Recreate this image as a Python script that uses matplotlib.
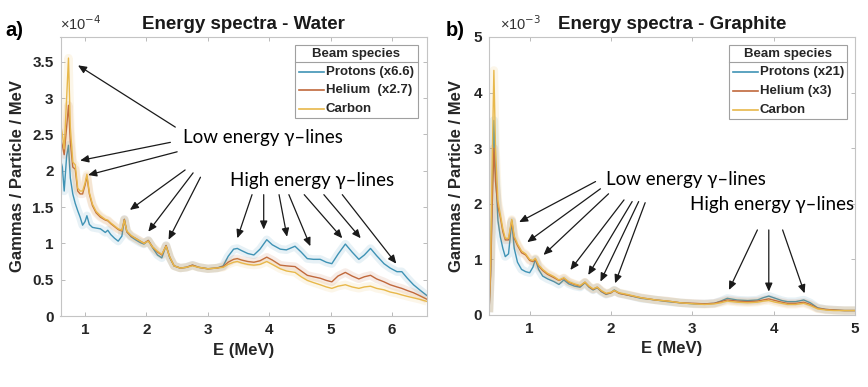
import matplotlib
matplotlib.use("Agg")
import matplotlib.pyplot as plt
from matplotlib.ticker import FuncFormatter
from matplotlib.lines import Line2D
from matplotlib.patches import Rectangle

# ---------------- data: panel a (Water), units 1e-4 ----------------
E_a = [0.60, 0.63, 0.66, 0.70, 0.73, 0.76, 0.80, 0.84, 0.88, 0.92, 0.96, 1.00, 1.03, 1.07,
       1.12, 1.18, 1.25, 1.33, 1.37, 1.42, 1.48, 1.54, 1.60, 1.64, 1.68, 1.75, 1.82, 1.90,
       1.96, 2.03, 2.10, 2.18, 2.25, 2.32, 2.38, 2.45, 2.55, 2.65, 2.75, 2.85, 3.00, 3.15,
       3.25, 3.33, 3.42, 3.48, 3.55, 3.65, 3.75, 3.85, 3.96, 4.05, 4.18, 4.28, 4.42, 4.52,
       4.62, 4.72, 4.83, 4.93, 5.02, 5.12, 5.24, 5.35, 5.46, 5.55, 5.65, 5.75, 5.87, 5.97,
       6.08, 6.16, 6.25, 6.35, 6.45, 6.57]
water_protons = [2.15, 2.05, 1.72, 2.20, 2.35, 1.90, 1.68, 1.55, 1.45, 1.36, 1.25, 1.30, 1.38, 1.26,
                 1.22, 1.21, 1.20, 1.15, 1.18, 1.12, 1.07, 1.03, 1.10, 1.33, 1.16, 1.09, 1.05, 1.01,
                 0.99, 1.04, 0.94, 0.84, 0.80, 0.97, 0.80, 0.69, 0.66, 0.67, 0.70, 0.67, 0.65, 0.66,
                 0.69, 0.82, 0.92, 0.93, 0.90, 0.86, 0.84, 0.92, 1.05, 0.98, 0.92, 0.91, 0.96, 0.88,
                 0.79, 0.78, 0.78, 0.74, 0.72, 0.85, 0.99, 0.88, 0.78, 0.84, 0.93, 0.83, 0.72, 0.66,
                 0.61, 0.61, 0.52, 0.43, 0.36, 0.28]
water_helium = [2.45, 2.35, 2.22, 2.60, 2.90, 2.40, 2.05, 2.02, 1.72, 1.68, 1.68, 1.80, 1.92, 1.68,
                1.52, 1.42, 1.36, 1.32, 1.31, 1.27, 1.23, 1.19, 1.17, 1.33, 1.16, 1.10, 1.07, 1.03,
                1.00, 1.04, 0.95, 0.88, 0.84, 0.97, 0.81, 0.69, 0.66, 0.67, 0.70, 0.67, 0.65, 0.66,
                0.68, 0.74, 0.78, 0.79, 0.77, 0.75, 0.74, 0.76, 0.81, 0.77, 0.70, 0.69, 0.68, 0.62,
                0.56, 0.54, 0.52, 0.49, 0.47, 0.55, 0.60, 0.55, 0.51, 0.54, 0.56, 0.51, 0.47, 0.43,
                0.40, 0.38, 0.35, 0.32, 0.28, 0.23]
water_carbon = [2.65, 2.50, 2.30, 3.00, 3.55, 2.60, 2.12, 2.08, 1.76, 1.72, 1.72, 1.83, 1.95, 1.70,
                1.54, 1.44, 1.38, 1.33, 1.32, 1.28, 1.24, 1.20, 1.18, 1.32, 1.17, 1.11, 1.07, 1.03,
                1.00, 1.03, 0.95, 0.89, 0.85, 0.96, 0.81, 0.69, 0.66, 0.67, 0.69, 0.67, 0.65, 0.66,
                0.67, 0.71, 0.74, 0.75, 0.73, 0.71, 0.70, 0.71, 0.75, 0.71, 0.65, 0.62, 0.60, 0.54,
                0.49, 0.46, 0.43, 0.40, 0.38, 0.41, 0.43, 0.40, 0.38, 0.40, 0.41, 0.38, 0.36, 0.33,
                0.31, 0.29, 0.27, 0.25, 0.23, 0.20]

# ---------------- data: panel b (Graphite), units 1e-3 ----------------
E_b = [0.50, 0.52, 0.54, 0.56, 0.58, 0.61, 0.64, 0.67, 0.70, 0.74, 0.78, 0.81, 0.85, 0.90,
       0.95, 1.00, 1.04, 1.07, 1.11, 1.16, 1.22, 1.30, 1.36, 1.42, 1.48, 1.55, 1.62, 1.68,
       1.73, 1.78, 1.83, 1.88, 1.94, 2.00, 2.04, 2.10, 2.20, 2.37, 2.55, 2.70, 2.85, 3.02,
       3.15, 3.27, 3.35, 3.43, 3.55, 3.68, 3.80, 3.87, 3.94, 4.02, 4.10, 4.17, 4.27, 4.37,
       4.45, 4.54, 4.64, 4.74, 4.87, 5.00]
graphite_protons = [0.05, 0.80, 2.30, 3.50, 2.60, 1.70, 1.40, 1.20, 1.05, 1.10, 1.68, 1.20, 0.95, 0.82,
                    0.78, 0.76, 0.86, 1.00, 0.82, 0.70, 0.65, 0.60, 0.55, 0.63, 0.56, 0.52, 0.50, 0.58,
                    0.50, 0.45, 0.49, 0.42, 0.37, 0.40, 0.45, 0.39, 0.36, 0.30, 0.27, 0.24, 0.22, 0.20,
                    0.20, 0.21, 0.25, 0.30, 0.27, 0.26, 0.27, 0.31, 0.34, 0.30, 0.26, 0.24, 0.24, 0.27,
                    0.22, 0.13, 0.10, 0.09, 0.08, 0.08]
graphite_helium = [0.05, 0.70, 2.00, 3.00, 2.40, 1.95, 1.75, 1.50, 1.35, 1.35, 1.70, 1.38, 1.25, 1.12,
                   1.08, 0.98, 0.96, 1.00, 0.88, 0.80, 0.73, 0.67, 0.62, 0.66, 0.59, 0.55, 0.52, 0.59,
                   0.51, 0.46, 0.50, 0.43, 0.38, 0.40, 0.44, 0.39, 0.36, 0.31, 0.27, 0.25, 0.22, 0.21,
                   0.20, 0.21, 0.24, 0.27, 0.25, 0.24, 0.25, 0.27, 0.29, 0.26, 0.23, 0.21, 0.21, 0.23,
                   0.19, 0.12, 0.10, 0.09, 0.08, 0.08]
graphite_carbon = [0.05, 1.00, 2.80, 4.40, 3.00, 2.05, 1.80, 1.55, 1.38, 1.38, 1.72, 1.42, 1.28, 1.15,
                   1.10, 1.00, 0.98, 1.02, 0.90, 0.82, 0.75, 0.69, 0.63, 0.67, 0.60, 0.56, 0.53, 0.59,
                   0.52, 0.47, 0.50, 0.44, 0.39, 0.41, 0.44, 0.40, 0.37, 0.31, 0.27, 0.25, 0.22, 0.20,
                   0.19, 0.20, 0.22, 0.25, 0.23, 0.22, 0.23, 0.25, 0.26, 0.23, 0.21, 0.19, 0.19, 0.21,
                   0.17, 0.11, 0.09, 0.08, 0.08, 0.08]

labels_a = ["Protons (x6.6)", "Helium  (x2.7)", "Carbon"]
labels_b = ["Protons (x21)", "Helium (x3)", "Carbon"]
colors = ["#3f93b5", "#c0683c", "#e8b84a"]

plt.rcParams["font.family"] = ["Liberation Sans", "DejaVu Sans"]
ANN_FONT = ["Lato", "DejaVu Sans"]

fig = plt.figure(figsize=(8.68, 3.87), dpi=100)
ax_a = fig.add_axes([60.5 / 868, 1 - 316 / 387, 366.5 / 868, 279 / 387])
ax_b = fig.add_axes([489 / 868, 1 - 315 / 387, 366 / 868, 278 / 387])

fmt = FuncFormatter(lambda v, p: f"{v:g}")


def style_axes(ax):
    for s in ax.spines.values():
        s.set_color("#c4c4c4")
        s.set_linewidth(0.8)
    ax.tick_params(direction="in", length=3, width=0.6, color="#b0b0b0",
                   top=True, right=True, labelsize=11, labelcolor="#262626", pad=5)
    for lab in ax.get_xticklabels() + ax.get_yticklabels():
        lab.set_fontweight("bold")
    ax.yaxis.set_major_formatter(fmt)
    ax.xaxis.set_major_formatter(fmt)


def draw_series(ax, x, ys):
    for y, c in zip(ys, colors):
        ax.plot(x, y, color=c, lw=6, alpha=0.12, solid_capstyle="butt")
        ax.plot(x, y, color=c, lw=1.0)


def draw_legend(ax, x0, x1, y0, y1, labels):
    ax.add_patch(Rectangle((x0, y0), x1 - x0, y1 - y0, transform=ax.transAxes,
                           fill=True, facecolor="white", edgecolor="#a0a0a0", lw=0.8, zorder=5))
    sep = y1 - 0.062
    ax.add_line(Line2D([x0, x1], [sep, sep], transform=ax.transAxes, color="#a0a0a0", lw=0.8, zorder=6))
    ax.text((x0 + x1) / 2, (y1 + sep) / 2, "Beam species", transform=ax.transAxes,
            ha="center", va="center", fontsize=9.5, fontweight="bold", color="#262626", zorder=6)
    step = (sep - y0) / 3
    for i, (lab, c) in enumerate(zip(labels, colors)):
        yy = sep - step * (i + 0.5)
        ax.add_line(Line2D([x0 + 0.012, x0 + 0.08], [yy, yy], transform=ax.transAxes,
                           color=c, lw=1.2, zorder=6))
        ax.text(x0 + 0.084, yy, lab, transform=ax.transAxes, ha="left", va="center",
                fontsize=9.5, fontweight="bold", color="#262626", zorder=6)


def arrows(ax, pairs):
    for (tx, ty), (hx, hy) in pairs:
        ax.annotate("", xy=(hx, hy), xytext=(tx, ty),
                    arrowprops=dict(arrowstyle="-|>,head_length=0.5,head_width=0.22",
                                    color="#1a1a1a", lw=0.9, shrinkA=0, shrinkB=0))


# ---------------- panel a ----------------
draw_series(ax_a, E_a, [water_protons, water_helium, water_carbon])
ax_a.set_xlim(0.6, 6.57)
ax_a.set_ylim(0, 3.84)
ax_a.set_xticks([1, 2, 3, 4, 5, 6])
ax_a.set_yticks([0, 0.5, 1, 1.5, 2, 2.5, 3, 3.5])
style_axes(ax_a)
ax_a.set_xlabel("E (MeV)", fontsize=12, fontweight="bold", color="#262626", labelpad=4)
ax_a.set_ylabel("Gammas / Particle / MeV", fontsize=12, fontweight="bold", color="#262626", labelpad=5)
ax_a.set_title("Energy spectra - Water", fontsize=13.5, fontweight="bold", color="#1a1a1a", pad=6)
ax_a.text(0.0, 1.015, "×10$^{-4}$", transform=ax_a.transAxes, fontsize=10.5, color="#333333",
          ha="left", va="bottom")
fig.text(5 / 868, 1 - 30 / 387, "a)", fontsize=14.5, fontweight="bold", ha="left", va="center")
draw_legend(ax_a, 0.64, 0.975, 0.71, 0.971, labels_a)

ax_a.text(3.89, 2.45, "Low energy γ–lines", fontsize=13.5, family=ANN_FONT, ha="center", va="center")
ax_a.text(4.69, 1.87, "High energy γ–lines", fontsize=13.5, family=ANN_FONT, ha="center", va="center")
arrows(ax_a, [((2.47, 2.60), (0.885, 3.45)), ((2.39, 2.39), (0.92, 2.14)), ((2.50, 2.26), (1.05, 1.94)),
              ((2.63, 2.01), (1.73, 1.46)), ((2.76, 1.97), (2.03, 1.16)), ((2.88, 1.91), (2.36, 1.05))])
arrows(ax_a, [((3.72, 1.67), (3.48, 1.07)), ((3.91, 1.67), (3.91, 1.19)), ((4.16, 1.67), (4.29, 1.09)),
              ((4.32, 1.67), (4.67, 0.96)), ((4.57, 1.67), (5.19, 1.07)), ((4.89, 1.67), (5.49, 1.07)),
              ((5.19, 1.67), (6.07, 0.72))])

# ---------------- panel b ----------------
draw_series(ax_b, E_b, [graphite_protons, graphite_helium, graphite_carbon])
ax_b.set_xlim(0.5, 5)
ax_b.set_ylim(0, 5)
ax_b.set_xticks([1, 2, 3, 4, 5])
ax_b.set_yticks([0, 1, 2, 3, 4, 5])
style_axes(ax_b)
ax_b.set_xlabel("E (MeV)", fontsize=12, fontweight="bold", color="#262626", labelpad=4)
ax_b.set_ylabel("Gammas / Particle / MeV", fontsize=12, fontweight="bold", color="#262626", labelpad=7)
ax_b.set_title("Energy spectra - Graphite", fontsize=13.5, fontweight="bold", color="#1a1a1a", pad=6)
ax_b.text(0.03, 1.015, "×10$^{-3}$", transform=ax_b.transAxes, fontsize=10.5, color="#333333",
          ha="left", va="bottom")
fig.text(446 / 868, 1 - 30 / 387, "b)", fontsize=14.5, fontweight="bold", ha="left", va="center")
draw_legend(ax_b, 0.656, 0.979, 0.705, 0.971, labels_b)

ax_b.text(2.92, 2.43, "Low energy γ–lines", fontsize=13.5, family=ANN_FONT, ha="center", va="center")
ax_b.text(3.98, 1.98, "High energy γ–lines", fontsize=13.5, family=ANN_FONT, ha="center", va="center")
arrows(ax_b, [((1.81, 2.40), (0.87, 1.67)), ((1.87, 2.27), (0.97, 1.31)), ((1.97, 2.18), (1.17, 1.08)),
              ((2.16, 2.07), (1.50, 0.81)), ((2.26, 2.04), (1.72, 0.72)), ((2.34, 2.04), (1.87, 0.60)),
              ((2.42, 2.02), (2.05, 0.57))])
arrows(ax_b, [((3.80, 1.53), (3.45, 0.45)), ((3.94, 1.53), (3.94, 0.42)), ((4.11, 1.53), (4.38, 0.39))])

fig.savefig("out.png", dpi=100)
